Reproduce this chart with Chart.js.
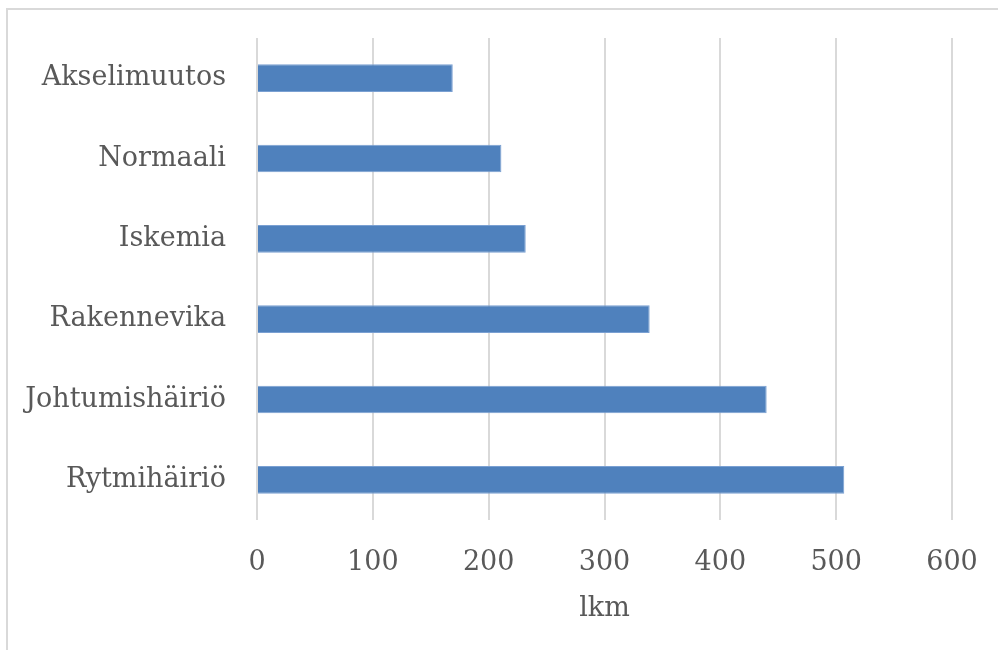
<!DOCTYPE html>
<html>
<head>
<meta charset="utf-8">
<script src="https://cdn.jsdelivr.net/npm/chart.js@4/dist/chart.umd.min.js"></script>
<style>
  html, body { margin: 0; padding: 0; background: #ffffff; overflow: hidden; }
  #frame { position: absolute; left: 6px; top: 8px; width: 1100px; height: 800px; border: 2px solid #d9d9d9; box-sizing: border-box; }
  #wrap { position: absolute; left: 0; top: 0; width: 998px; height: 650px; }
</style>
</head>
<body>
<div id="frame"></div>
<div id="wrap"><canvas id="c" width="998" height="650"></canvas></div>
<script>
const categories = ["Akselimuutos", "Normaali", "Iskemia", "Rakennevika", "Johtumishäiriö", "Rytmihäiriö"];
const values = [169, 211, 232, 339, 440, 507];
const xAxisTitle = "lkm";
const xMin = 0, xMax = 600, xStep = 100;

const textColor = "#595959";
const fontFamily = "'DejaVu Serif', serif";

new Chart(document.getElementById("c"), {
  type: "bar",
  data: {
    labels: categories,
    datasets: [{
      data: values,
      backgroundColor: "#4f81bd",
      borderColor: "#7aa0d2",
      borderWidth: 1,
      borderSkipped: "start",
      barPercentage: 0.345,
      categoryPercentage: 1
    }]
  },
  options: {
    indexAxis: "y",
    responsive: false,
    animation: false,
    devicePixelRatio: 1,
    layout: { padding: { top: 38, right: 46, bottom: 0, left: 0 } },
    plugins: { legend: { display: false }, tooltip: { enabled: false } },
    scales: {
      x: {
        min: xMin, max: xMax,
        grid: { color: "#d9d9d9", lineWidth: 2, drawTicks: false },
        border: { display: false },
        ticks: { stepSize: xStep, color: textColor, font: { family: fontFamily, size: 27 }, padding: 27, maxRotation: 0 },
        title: { display: true, text: xAxisTitle, color: textColor, font: { family: fontFamily, size: 27 }, padding: { top: 0, bottom: 25 } },
        afterFit: (s) => { s.height = 130; s.paddingLeft = 0; s.paddingRight = 0; }
      },
      y: {
        grid: { display: false, drawTicks: false },
        border: { display: false },
        ticks: { color: textColor, font: { family: fontFamily, size: 27 }, padding: 31 },
        afterFit: (s) => { s.width = 257; s.paddingTop = 0; s.paddingBottom = 0; }
      }
    }
  }
});
</script>
</body>
</html>
